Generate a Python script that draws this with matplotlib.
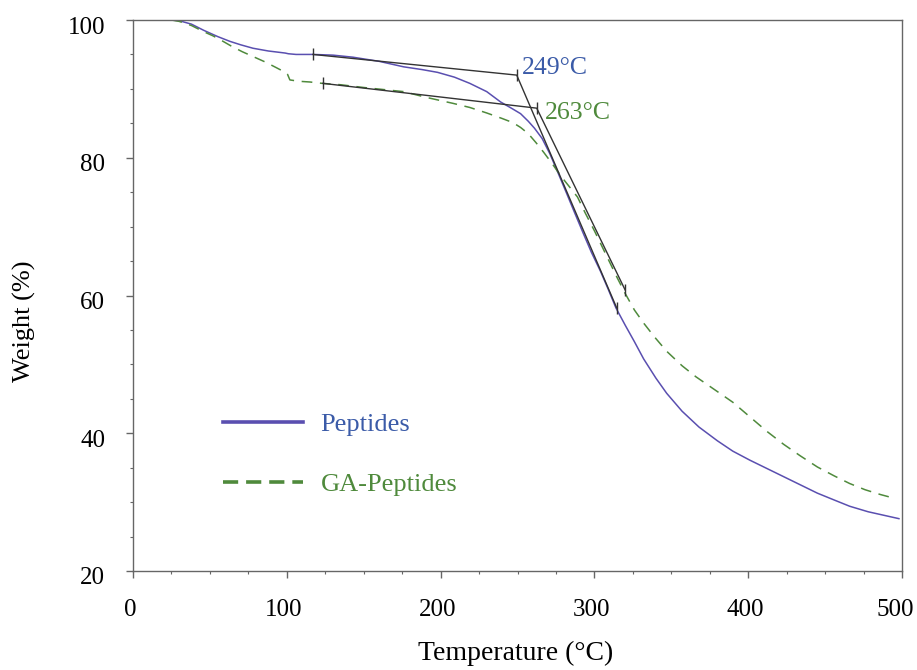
import matplotlib
matplotlib.use("Agg")
import matplotlib.pyplot as plt
from matplotlib.ticker import MultipleLocator
from matplotlib.transforms import ScaledTranslation

# ---- data ----
pep_T = [25, 30, 38, 46, 55, 63, 70, 78, 88, 99, 101, 106, 117, 130, 143, 160, 176,
         188, 198, 209, 219, 230, 239, 246, 252, 257, 261, 266, 271, 276, 282, 287,
         293, 298, 304, 309, 314, 320, 326, 332, 340, 347, 357, 368, 380, 390, 401,
         412, 423, 434, 445, 456, 466, 478, 488, 498]
pep_W = [100, 99.9, 99.4, 98.5, 97.6, 96.9, 96.4, 95.9, 95.5, 95.2, 95.1, 95.0, 95.0,
         94.9, 94.6, 94.0, 93.2, 92.8, 92.4, 91.7, 90.8, 89.6, 88.1, 87.2, 86.4, 85.3,
         84.3, 82.8, 80.6, 78.0, 74.8, 72.1, 68.9, 66.3, 63.5, 60.9, 58.2, 55.7, 53.3,
         50.8, 48.0, 45.8, 43.2, 40.9, 38.9, 37.4, 36.1, 34.9, 33.7, 32.5, 31.3, 30.3,
         29.4, 28.6, 28.1, 27.6]

ga_T = [25, 30, 38, 46, 52, 57, 64, 71, 78, 86, 93, 99, 100.5, 102, 108, 115, 123,
        135, 150, 163, 176, 190, 200, 208, 219, 230, 240, 247, 252, 257, 262, 267,
        273, 278, 283, 289, 294, 300, 305, 310, 315, 320, 326, 332, 339, 347, 357,
        366, 379, 390, 401, 412, 423, 434, 445, 456, 466, 476, 486, 496]
ga_W = [100, 99.8, 99.2, 98.3, 97.7, 97.1, 96.2, 95.4, 94.7, 93.9, 93.1, 92.4, 92.1,
        91.3, 91.1, 91.0, 90.8, 90.6, 90.2, 89.9, 89.6, 88.8, 88.3, 87.9, 87.3, 86.5,
        85.7, 85.1, 84.4, 83.5, 82.2, 80.8, 79.0, 77.4, 76.0, 74.3, 72.0, 69.4, 67.1,
        64.8, 62.5, 60.3, 57.9, 56.0, 54.0, 51.9, 49.8, 48.2, 46.2, 44.5, 42.4, 40.3,
        38.4, 36.7, 35.1, 33.8, 32.7, 31.8, 31.1, 30.5]

pep_tan_T = [117, 249.5, 314.5]
pep_tan_W = [95.0, 92.0, 58.2]
ga_tan_T = [123.5, 262.5, 320]
ga_tan_W = [90.8, 87.2, 60.8]

onset_labels = ["249°C", "263°C"]
series_labels = ["Peptides", "GA-Peptides"]

x_ticks = [0, 100, 200, 300, 400, 500]
y_ticks = [20, 40, 60, 80, 100]

# ---- style ----
plt.rcParams["font.family"] = ["Liberation Serif", "DejaVu Serif"]
blue_line = "#5a4fb0"
blue_text = "#3b5ba8"
green_line = "#4f8a3c"
green_text = "#4f8a3c"
spine_c = "#666666"

fig = plt.figure(figsize=(9.17, 6.70), dpi=100)
W_PX, H_PX = 917, 670
ax = fig.add_axes([133 / W_PX, 1 - 571 / H_PX, 769 / W_PX, 551 / H_PX])

l1, = ax.plot(pep_T, pep_W, color=blue_line, lw=1.1, label=series_labels[0])
l2, = ax.plot(ga_T, ga_W, color=green_line, lw=1.1, ls=(0, (7, 5)),
              label=series_labels[1])

ax.plot(pep_tan_T, pep_tan_W, color="#333333", lw=1.0, marker="|", ms=9, mew=1.0)
ax.plot(ga_tan_T, ga_tan_W, color="#333333", lw=1.0, marker="|", ms=9, mew=1.0)

ax.text(pep_tan_T[1] + 3.5, pep_tan_W[1] + 1.1, onset_labels[0], color=blue_text,
        fontsize=18.5, ha="left", va="center")
ax.text(ga_tan_T[1] + 5.5, ga_tan_W[1] - 0.7, onset_labels[1], color=green_text,
        fontsize=18.5, ha="left", va="center")

ax.set_xlim(0, 500)
ax.set_ylim(20, 100)
ax.set_xticks(x_ticks)
ax.set_yticks(y_ticks)
ax.xaxis.set_minor_locator(MultipleLocator(25))
ax.yaxis.set_minor_locator(MultipleLocator(5))
ax.tick_params(axis="both", which="major", direction="out", length=5, width=1,
               color=spine_c, labelsize=18)
ax.tick_params(axis="both", which="minor", direction="out", length=2.5, width=0.8,
               color=spine_c)
ax.tick_params(axis="x", which="major", pad=15)
ax.tick_params(axis="y", which="major", pad=15)
for s in ax.spines.values():
    s.set_color(spine_c)
    s.set_linewidth(1.0)

# small label offsets as in the reference
xlabels = ax.get_xticklabels()
for i, lbl in enumerate(xlabels):
    dx = -7 if i == len(xlabels) - 1 else -3
    lbl.set_transform(lbl.get_transform() + ScaledTranslation(dx / 100, 0, fig.dpi_scale_trans))
for lbl in ax.get_yticklabels():
    lbl.set_transform(lbl.get_transform() + ScaledTranslation(0, -5 / 100, fig.dpi_scale_trans))

ax.set_xlabel("Temperature (°C)", fontsize=20)
ax.xaxis.set_label_coords(0.497, -0.150)
ax.xaxis.label.set_va("center")
ax.set_ylabel("Weight (%)", fontsize=19)
ax.yaxis.set_label_coords(-0.141, 0.454)
ax.yaxis.label.set_va("center")

leg = ax.legend(handles=[l1, l2], loc="upper left", bbox_to_anchor=(0.103, 0.306),
                frameon=False, fontsize=19, handlelength=3.03, handletextpad=0.68,
                labelspacing=1.38, borderaxespad=0)
for txt, c in zip(leg.get_texts(), [blue_text, green_text]):
    txt.set_color(c)
lh = leg.get_lines()
for h in lh:
    h.set_linewidth(2.6)
lh[1].set_dashes([4.2, 2.2])

fig.savefig("out.png", dpi=100)
